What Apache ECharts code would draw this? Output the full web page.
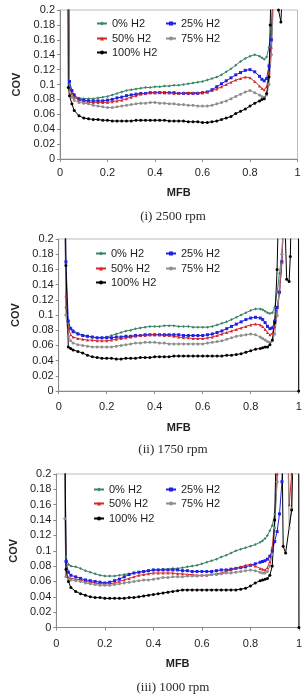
<!DOCTYPE html>
<html><head><meta charset="utf-8">
<script src="https://cdn.jsdelivr.net/npm/echarts@6/dist/echarts.min.js"></script>
<style>html,body{margin:0;padding:0;background:#fff}#c{width:305px;height:696px}</style>
</head><body><div id="c"></div>
<script>
// common MFB grid for the body of every curve
const mfb = [0.06,0.08,0.10,0.12,0.14,0.16,0.18,0.20,0.22,0.24,0.26,0.28,0.30,0.32,0.34,0.36,0.38,0.40,0.42,0.44,0.46,0.48,0.50,0.52,0.54,0.56,0.58,0.60,0.62,0.64,0.66,0.68,0.70,0.72,0.74,0.76,0.78,0.80,0.82,0.84];

const seriesNames = ['0% H2','25% H2','50% H2','75% H2','100% H2'];
const captions = ['(i) 2500 rpm','(ii) 1750 rpm','(iii) 1000 rpm'];

// ---- (i) 2500 rpm ----
const c1_h0 = [[0.03,0.45],[0.04,0.100],[0.05,0.088]];
const c1_b0 = [0.084,0.082,0.081,0.081,0.081,0.082,0.083,0.084,0.086,0.088,0.090,0.092,0.093,0.094,0.095,0.096,0.096,0.097,0.097,0.098,0.098,0.099,0.099,0.100,0.101,0.102,0.103,0.104,0.106,0.108,0.110,0.113,0.117,0.121,0.126,0.131,0.135,0.138,0.140,0.138];
const c1_t0 = [[0.85,0.136],[0.86,0.134],[0.87,0.137],[0.88,0.150],[0.89,0.175],[0.90,0.25]];
const c1_h1 = [[0.03,0.45],[0.04,0.104],[0.05,0.092]];
const c1_b1 = [0.086,0.080,0.079,0.078,0.078,0.078,0.078,0.079,0.080,0.082,0.083,0.085,0.086,0.087,0.088,0.088,0.089,0.089,0.089,0.089,0.089,0.089,0.088,0.088,0.088,0.088,0.088,0.089,0.090,0.093,0.097,0.101,0.105,0.109,0.113,0.116,0.119,0.120,0.117,0.111];
const c1_t1 = [[0.85,0.107],[0.86,0.105],[0.87,0.108],[0.88,0.125],[0.89,0.16],[0.90,0.25]];
const c1_h2 = [[0.03,0.45],[0.04,0.095],[0.05,0.088]];
const c1_b2 = [0.083,0.079,0.077,0.076,0.076,0.076,0.076,0.076,0.077,0.078,0.079,0.081,0.083,0.085,0.087,0.088,0.089,0.089,0.090,0.089,0.089,0.088,0.088,0.089,0.089,0.089,0.089,0.089,0.090,0.092,0.094,0.097,0.100,0.103,0.106,0.108,0.110,0.109,0.104,0.098];
const c1_t2 = [[0.85,0.095],[0.86,0.093],[0.87,0.097],[0.88,0.115],[0.89,0.15],[0.90,0.25]];
const c1_h3 = [[0.03,0.45],[0.04,0.090],[0.05,0.083]];
const c1_b3 = [0.079,0.076,0.075,0.074,0.072,0.071,0.070,0.069,0.069,0.070,0.071,0.072,0.073,0.074,0.075,0.075,0.076,0.076,0.075,0.075,0.074,0.074,0.073,0.073,0.072,0.072,0.071,0.071,0.071,0.072,0.074,0.076,0.078,0.081,0.084,0.087,0.090,0.092,0.089,0.086];
const c1_t3 = [[0.85,0.084],[0.86,0.083],[0.87,0.086],[0.88,0.100],[0.89,0.14],[0.90,0.22]];
const c1_h4 = [[0.03,0.45],[0.035,0.096],[0.04,0.085],[0.05,0.074]];
const c1_b4 = [0.065,0.058,0.055,0.054,0.053,0.053,0.052,0.052,0.051,0.051,0.051,0.051,0.051,0.052,0.052,0.052,0.052,0.052,0.052,0.052,0.051,0.051,0.051,0.051,0.050,0.050,0.050,0.049,0.049,0.050,0.051,0.053,0.055,0.057,0.061,0.064,0.067,0.071,0.075,0.078];
const c1_t4 = [[0.85,0.080],[0.86,0.081],[0.87,0.088],[0.88,0.110],[0.885,0.18],[0.89,0.25],[0.91,0.26],[0.92,0.20],[0.93,0.184],[0.94,0.25]];

// ---- (ii) 1750 rpm ----
const c2_h0 = [[0.02,0.45],[0.03,0.110],[0.04,0.089],[0.05,0.083]];
const c2_b0 = [0.080,0.076,0.073,0.072,0.071,0.070,0.070,0.071,0.073,0.075,0.077,0.079,0.080,0.082,0.083,0.084,0.085,0.085,0.085,0.086,0.086,0.086,0.085,0.085,0.085,0.084,0.084,0.084,0.084,0.085,0.087,0.089,0.091,0.094,0.097,0.100,0.103,0.106,0.108,0.108];
const c2_t0 = [[0.85,0.107],[0.86,0.105],[0.87,0.103],[0.88,0.102],[0.89,0.103],[0.90,0.110],[0.91,0.130],[0.92,0.155],[0.93,0.180],[0.94,0.25]];
const c2_h1 = [[0.02,0.45],[0.03,0.170],[0.04,0.092],[0.05,0.082]];
const c2_b1 = [0.078,0.075,0.073,0.072,0.071,0.070,0.070,0.070,0.070,0.071,0.071,0.072,0.072,0.073,0.073,0.074,0.074,0.074,0.074,0.074,0.074,0.074,0.074,0.073,0.073,0.073,0.073,0.073,0.074,0.075,0.077,0.079,0.082,0.085,0.088,0.091,0.094,0.096,0.097,0.096];
const c2_t1 = [[0.85,0.094],[0.86,0.090],[0.87,0.085],[0.88,0.082],[0.89,0.083],[0.90,0.092],[0.91,0.110],[0.92,0.130],[0.93,0.170],[0.94,0.25]];
const c2_h2 = [[0.02,0.45],[0.03,0.125],[0.04,0.082],[0.05,0.074]];
const c2_b2 = [0.071,0.069,0.068,0.067,0.067,0.066,0.066,0.066,0.067,0.068,0.069,0.070,0.071,0.072,0.073,0.073,0.074,0.074,0.074,0.073,0.073,0.072,0.071,0.070,0.070,0.069,0.069,0.069,0.070,0.071,0.073,0.075,0.077,0.079,0.081,0.083,0.085,0.087,0.088,0.087];
const c2_t2 = [[0.85,0.085],[0.86,0.081],[0.87,0.077],[0.88,0.074],[0.89,0.076],[0.90,0.085],[0.91,0.100],[0.92,0.130],[0.93,0.170],[0.94,0.25]];
const c2_h3 = [[0.02,0.45],[0.03,0.100],[0.04,0.072],[0.05,0.066]];
const c2_b3 = [0.063,0.061,0.060,0.059,0.058,0.058,0.058,0.058,0.058,0.059,0.060,0.061,0.062,0.063,0.063,0.064,0.064,0.064,0.063,0.063,0.062,0.062,0.062,0.062,0.062,0.062,0.062,0.062,0.063,0.064,0.065,0.066,0.068,0.070,0.072,0.073,0.074,0.075,0.074,0.071];
const c2_t3 = [[0.85,0.069],[0.86,0.067],[0.87,0.065],[0.88,0.064],[0.89,0.066],[0.90,0.075],[0.91,0.100],[0.92,0.140],[0.93,0.180],[0.94,0.25]];
const c2_h4 = [[0.02,0.45],[0.03,0.165],[0.04,0.058],[0.05,0.056]];
const c2_b4 = [0.054,0.052,0.050,0.047,0.045,0.044,0.043,0.043,0.043,0.042,0.042,0.043,0.043,0.043,0.044,0.044,0.044,0.045,0.045,0.045,0.045,0.046,0.046,0.046,0.046,0.046,0.046,0.046,0.046,0.046,0.046,0.046,0.047,0.047,0.048,0.049,0.051,0.053,0.055,0.056];
const c2_t4 = [[0.85,0.057],[0.86,0.058],[0.87,0.058],[0.88,0.061],[0.89,0.067],[0.90,0.090],[0.91,0.160],[0.92,0.30],[0.94,0.25],[0.95,0.147],[0.96,0.144],[0.965,0.177],[0.97,0.25],[0.998,0.45],[1.0,0]];

// ---- (iii) 1000 rpm ----
const c3_h0 = [[0.03,0.45],[0.04,0.092],[0.05,0.082]];
const c3_b0 = [0.080,0.079,0.077,0.074,0.072,0.070,0.068,0.067,0.067,0.067,0.068,0.069,0.070,0.071,0.072,0.073,0.074,0.075,0.075,0.076,0.076,0.077,0.077,0.078,0.079,0.080,0.081,0.083,0.085,0.087,0.089,0.092,0.094,0.097,0.100,0.102,0.104,0.106,0.108,0.111];
const c3_t0 = [[0.85,0.113],[0.86,0.116],[0.87,0.120],[0.88,0.126],[0.89,0.133],[0.90,0.148],[0.91,0.19],[0.92,0.28]];
const c3_h1 = [[0.03,0.45],[0.04,0.086],[0.05,0.072]];
const c3_b1 = [0.068,0.066,0.064,0.062,0.061,0.060,0.059,0.058,0.059,0.061,0.063,0.066,0.069,0.071,0.072,0.073,0.074,0.075,0.075,0.075,0.075,0.075,0.075,0.074,0.074,0.073,0.073,0.073,0.073,0.073,0.074,0.075,0.075,0.076,0.077,0.078,0.079,0.081,0.083,0.085];
const c3_t1 = [[0.85,0.086],[0.86,0.087],[0.87,0.089],[0.88,0.093],[0.89,0.100],[0.90,0.112],[0.91,0.125],[0.92,0.148],[0.93,0.19],[0.94,0.28]];
const c3_h2 = [[0.03,0.45],[0.04,0.068],[0.05,0.065]];
const c3_b2 = [0.064,0.063,0.062,0.060,0.059,0.058,0.057,0.057,0.057,0.058,0.060,0.062,0.064,0.066,0.068,0.069,0.070,0.071,0.071,0.071,0.071,0.071,0.070,0.070,0.069,0.069,0.068,0.068,0.068,0.069,0.070,0.071,0.073,0.075,0.077,0.079,0.081,0.082,0.080,0.077];
const c3_t2 = [[0.85,0.076],[0.86,0.075],[0.87,0.078],[0.88,0.086],[0.89,0.105],[0.90,0.14],[0.91,0.20],[0.92,0.30],[0.95,0.30],[0.96,0.16],[0.97,0.20],[0.98,0.30]];
const c3_h3 = [[0.03,0.45],[0.035,0.142],[0.04,0.066],[0.05,0.063]];
const c3_b3 = [0.062,0.061,0.060,0.058,0.057,0.056,0.055,0.055,0.055,0.056,0.057,0.058,0.059,0.060,0.061,0.062,0.062,0.063,0.064,0.065,0.065,0.066,0.066,0.066,0.067,0.067,0.067,0.068,0.068,0.069,0.069,0.070,0.071,0.071,0.072,0.073,0.074,0.075,0.074,0.072];
const c3_t3 = [[0.85,0.071],[0.86,0.071],[0.87,0.073],[0.88,0.080],[0.89,0.095],[0.90,0.13],[0.91,0.19],[0.92,0.30],[0.95,0.30],[0.96,0.13],[0.97,0.155],[0.98,0.30]];
const c3_h4 = [[0.03,0.45],[0.04,0.076],[0.05,0.060]];
const c3_b4 = [0.052,0.047,0.044,0.042,0.040,0.039,0.039,0.038,0.038,0.038,0.038,0.038,0.039,0.039,0.040,0.041,0.042,0.043,0.044,0.045,0.046,0.047,0.048,0.049,0.049,0.049,0.049,0.049,0.049,0.049,0.049,0.049,0.049,0.049,0.049,0.050,0.051,0.054,0.058,0.061];
const c3_t4 = [[0.85,0.062],[0.86,0.063],[0.87,0.064],[0.88,0.068],[0.89,0.080],[0.90,0.14],[0.91,0.30],[0.93,0.25],[0.935,0.106],[0.945,0.097],[0.97,0.153],[0.98,0.30],[0.998,0.45],[1.0,0]];

const charts = [
  [[c1_h0,c1_b0,c1_t0],[c1_h1,c1_b1,c1_t1],[c1_h2,c1_b2,c1_t2],[c1_h3,c1_b3,c1_t3],[c1_h4,c1_b4,c1_t4]],
  [[c2_h0,c2_b0,c2_t0],[c2_h1,c2_b1,c2_t1],[c2_h2,c2_b2,c2_t2],[c2_h3,c2_b3,c2_t3],[c2_h4,c2_b4,c2_t4]],
  [[c3_h0,c3_b0,c3_t0],[c3_h1,c3_b1,c3_t1],[c3_h2,c3_b2,c3_t2],[c3_h3,c3_b3,c3_t3],[c3_h4,c3_b4,c3_t4]]
];

// ---- layout / style ----
const colors = ['#3b8466','#2020e8','#d62828','#8e8e8e','#000000'];
const symbols = ['diamond','rect','triangle','circle','circle'];
const grids = [
  {left:60, top:10, width:237.5, height:149},
  {left:58.7, top:239, width:240, height:152},
  {left:55, top:474, width:246, height:153.5}
];
const xLabelMargin = [8, 10, 11];
const xNameGap = [28, 31, 31];
const legendRows = [[25,40,54],[255,270,284],[491,505,520]];
const legendCols = [[96,165],[95,165],[93,165]];
const captionY = [217, 450, 688];
const SANS = "'Liberation Sans', Arial, sans-serif";
const SERIF = "'Liberation Serif', 'Times New Roman', serif";
const TXT = '#1e1e1e';

const option = {
  animation: false,
  grid: [], xAxis: [], yAxis: [], series: [], legend: [], graphic: []
};

grids.forEach((g, k) => {
  option.grid.push(Object.assign({show:true, borderColor:'#bdbdbd', borderWidth:1, backgroundColor:'#fff'}, g));
  option.xAxis.push({
    type:'value', gridIndex:k, min:0, max:1, interval:0.2,
    name:'MFB', nameLocation:'middle', nameGap:xNameGap[k],
    nameTextStyle:{fontFamily:SANS, fontSize:11, fontWeight:'bold', color:TXT},
    axisLine:{show:true, lineStyle:{color:'#8a8a8a', width:1}},
    axisTick:{show:true, length:3, lineStyle:{color:'#8a8a8a'}},
    axisLabel:{fontFamily:SANS, fontSize:11, color:TXT, margin:xLabelMargin[k]},
    splitLine:{show:false}
  });
  option.yAxis.push({
    type:'value', gridIndex:k, min:0, max:0.2, interval:0.02,
    name:'COV', nameLocation:'middle', nameGap:36, nameRotate:90,
    nameTextStyle:{fontFamily:SANS, fontSize:11, fontWeight:'bold', color:TXT},
    axisLine:{show:true, lineStyle:{color:'#8a8a8a', width:1}},
    axisTick:{show:true, length:3, lineStyle:{color:'#8a8a8a'}},
    axisLabel:{fontFamily:SANS, fontSize:11, color:TXT, margin:5},
    splitLine:{show:false}
  });
  charts[k].forEach((parts, s) => {
    const [head, body, tail] = parts;
    const data = head.concat(body.map((v, i) => [mfb[i], v])).concat(tail);
    option.series.push({
      type:'line', name:seriesNames[s], xAxisIndex:k, yAxisIndex:k,
      data, symbol:symbols[s], symbolSize:3, showSymbol:true, clip:true,
      color:colors[s], lineStyle:{width:1, color:colors[s]},
      itemStyle:{color:colors[s]}
    });
  });
  // legend: two columns, three rows
  const pos = [[0,0],[0,1],[1,0],[1,1],[2,0]];
  pos.forEach(([r, c], s) => {
    option.legend.push({
      data:[seriesNames[s]], left:legendCols[k][c], top:legendRows[k][r] - 7,
      padding:0, itemWidth:10, itemHeight:5, selectedMode:false,
      textStyle:{fontFamily:SANS, fontSize:11, color:TXT}
    });
  });
  option.graphic.push({
    type:'text', left:'center', top:captionY[k] - 7,
    style:{text:captions[k], font:'13px ' + SERIF, fill:'#2a2a2a'}
  });
});
// center caption under the chart area (approx x=173)
option.graphic.forEach(g => { g.left = null; g.x = 173; g.style.textAlign = 'center'; g.top = null; g.y = g.y; });
option.graphic = captions.map((t, k) => ({
  type:'text', x:173, y:captionY[k], style:{text:t, font:'13px ' + SERIF, fill:'#2a2a2a', textAlign:'center', textVerticalAlign:'middle'}
}));

const chart = echarts.init(document.getElementById('c'), null, {renderer:'canvas'});
chart.setOption(option);
</script>
</body></html>
